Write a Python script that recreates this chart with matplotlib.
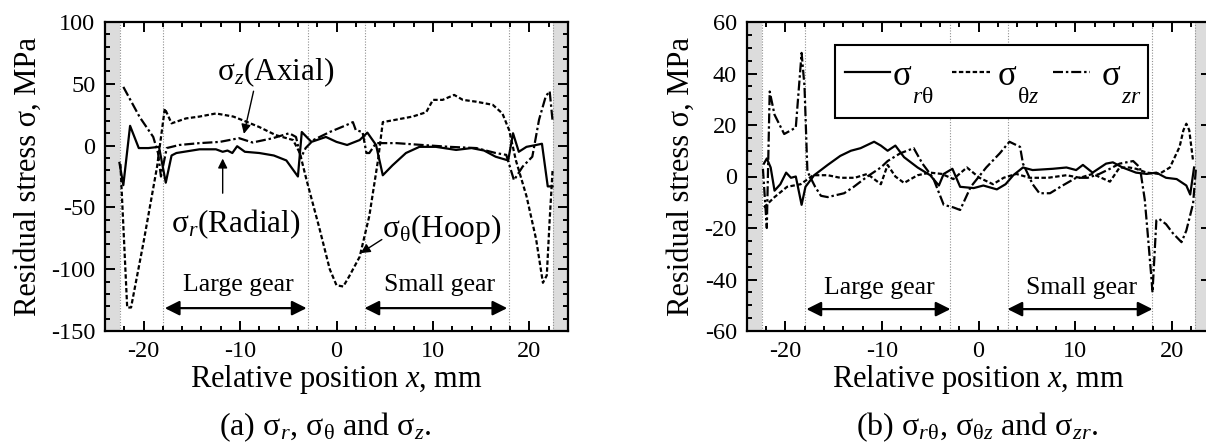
import matplotlib
matplotlib.use('Agg')
import matplotlib.pyplot as plt
from matplotlib.ticker import MultipleLocator
from matplotlib.patches import Rectangle
from matplotlib.lines import Line2D

plt.rcParams['font.family'] = ['Liberation Serif', 'DejaVu Serif']
plt.rcParams['mathtext.fontset'] = 'custom'
plt.rcParams['mathtext.rm'] = 'Liberation Serif'
plt.rcParams['mathtext.it'] = 'Liberation Serif:italic'
plt.rcParams['mathtext.bf'] = 'Liberation Serif:bold'
plt.rcParams['axes.unicode_minus'] = False

# (a) normal stresses
x_r = [-22.5, -22.1, -21.4, -20.5, -19.5, -18.4, -17.7, -17.1, -16.6, -15.0, -14.2,
       -12.5, -11.8, -11.3, -10.8, -10.3, -9.5, -8.0, -6.5, -5.2, -4.0, -3.6, -2.6,
       -1.1, 0.0, 1.1, 2.4, 3.2, 4.1, 4.8, 5.8, 7.2, 8.6, 10.3, 12.4, 14.0, 15.3,
       16.5, 17.8, 18.3, 18.9, 19.7, 20.7, 21.3, 21.9, 22.4]
sig_r = [-14, -32, 16, -2, -2, -1, -30, -8, -6, -4, -3,
         -3, -5, -4, -6, -0.5, -5, -6, -8, -12, -25, 11, 3,
         7, 3, 0.5, 4.5, 10.5, 0.5, -24, -16, -6, -1, -1, -3.5, -2, -4,
         -9, -12, 10, -5, -1, 0.5, 1.5, -33, -33]

x_t = [-22.4, -21.7, -21.3, -20.0, -18.6, -17.8, -17.1, -15.6, -14.2, -12.5, -10.7,
       -9.4, -8.0, -6.3, -4.5, -3.8, -3.1, -1.8, -0.7, 0.0, 0.7, 1.3, 2.4, 3.4,
       4.3, 4.8, 6.2, 7.9, 9.3, 10.0, 11.0, 12.2, 13.1, 14.5, 16.2, 17.2, 17.9,
       18.6, 19.7, 20.7, 21.4, 21.8, 22.1, 22.4]
sig_t = [-15, -131, -131, -78, -17, 30, 18, 22, 23.5, 26, 23.5,
         19.5, 15, 8.5, 4.5, -6, -28, -66, -100, -113, -114, -106, -90, -57,
         -12, 19, 21, 23.5, 27, 37, 37, 41, 37, 35.5, 33, 26, 12.5,
         -12, -41, -76, -111, -105, -60, -20]

x_z = [-22.1, -20.4, -19.0, -18.5, -18.2, -17.6, -16.3, -14.2, -12.1, -10.1, -8.7,
       -6.6, -4.9, -4.2, -3.7, -3.2, -2.4, -0.7, 1.0, 1.7, 2.0, 2.7, 3.1, 3.4,
       4.1, 6.2, 8.9, 11.7, 14.5, 16.5, 17.6, 18.4, 19.3, 20.3, 21.0, 21.7, 22.1, 22.4]
sig_z = [47.5, 23, 7, -6, -25, -2, 0.5, 2, 3, 6, 2.5,
         6, 10, 7, -10, -2, 4.5, 11, 16.5, 19, 12.5, 11, -6, -6,
         2, 2, 0.5, -1, -2, -6, -7.5, -28, -17, -9, 21, 40, 44, 20]

# (b) shear stresses
x_rt = [-22.2, -21.9, -21.5, -21.1, -20.5, -19.9, -19.4, -18.9, -18.3, -17.9, -17.0,
        -15.6, -14.3, -13.2, -12.2, -10.8, -10.1, -9.4, -8.6, -7.7, -6.3, -5.0,
        -4.1, -3.6, -2.7, -1.9, -0.5, 0.5, 1.9, 2.8, 3.6, 4.6, 5.6, 7.7, 9.1,
        10.1, 10.8, 11.8, 13.2, 13.9, 14.9, 16.3, 17.4, 18.4, 19.4, 20.5, 21.5,
        21.9, 22.3]
sig_rt = [5, 7, 3.5, -5.5, -3, 1.5, -0.5, 0, -11, -4, 0.5,
          4.5, 8, 10, 11, 13.5, 12, 10, 12, 7.5, 3.5, 0.5,
          -3.5, 1, 3, -4, -4.5, -3.5, -5, -3, 0.5, 3.5, 2.5, 3, 3.5,
          2.5, 4.5, 1.5, 5, 5.5, 3.5, 1.5, 1, 1.5, -0.5, -1, -3.5,
          -7, 3.5]

x_tz = [-22.2, -21.1, -19.8, -18.4, -17.1, -15.6, -14.3, -12.8, -11.5, -10.1, -9.4,
        -8.6, -7.7, -6.3, -5.0, -3.8, -2.6, -1.2, 0.1, 1.5, 2.6, 3.9, 5.3, 7.2,
        9.1, 10.5, 11.8, 13.6, 14.6, 15.6, 16.3, 17.4, 18.7, 19.8, 20.8, 21.2,
        21.5, 21.8, 22.2]
sig_tz = [-12, -8, -4, -3, 0.5, 0.5, -0.5, -0.5, 1, -3, 4.5,
          0, -2.5, 0.5, 1.5, 1, -1, 3.5, -0.5, -3, -0.5, 1, -0.5, -0.5,
          0.5, -0.5, 1, -2, 3.5, 3.5, 3, 1.5, 1, 3.5, 11.5, 18,
          20.5, 18, 6]

x_zr = [-22.3, -21.9, -21.6, -21.1, -20.1, -18.9, -18.3, -18.0, -17.7, -16.9, -16.3,
        -15.6, -13.9, -12.9, -11.5, -10.1, -9.4, -8.1, -6.7, -5.8, -4.7, -3.6,
        -2.6, -1.9, -0.8, 0.8, 2.2, 3.2, 4.3, 4.6, 5.6, 6.3, 7.4, 8.7, 10.1,
        11.3, 12.5, 13.6, 14.6, 16.0, 16.7, 17.2, 17.5, 17.9, 18.0, 18.4, 18.7,
        19.4, 20.1, 21.0, 21.5, 22.2, 22.5]
sig_zr = [3, -20, 33, 24, 16.5, 19, 48, 35, 2, -4, -7.5,
          -8, -6.5, -4, 0, 3.5, 6, 9, 11, 5, -0.5, -11,
          -12, -13, -4, 3.5, 9, 13.5, 11.5, 5, -3, -6.5, -6.5, -3.5, -0.5,
          -0.5, 1, 3, 5, 6, 3.5, -9, -22, -40, -45, -17, -16.5,
          -18.5, -22, -25.5, -21, -10.5, 3.5]

gear_lines = [-18, -3, 3, 17.9]
edge = 22.4

leg_subs = [r'$r\mathrm{\theta}$', r'$\mathrm{\theta}z$', r'$zr$']

dash = (0, (2, 1.1))
dashdot = (0, (4.5, 1.3, 1.1, 1.3))
lw = 1.6

fig = plt.figure(figsize=(12.06, 4.43), dpi=100)
ax1 = fig.add_axes([105 / 1206, 112 / 443, 463 / 1206, 309 / 443])
ax2 = fig.add_axes([746.5 / 1206, 112 / 443, 464 / 1206, 309 / 443])

for ax in (ax1, ax2):
    ax.set_xlim(-24, 24)
    ax.axvspan(-24, -edge, color='#dcdcdc', lw=0, zorder=0)
    ax.axvspan(edge, 24, color='#dcdcdc', lw=0, zorder=0)
    for xv in gear_lines + [-edge, edge]:
        ax.axvline(xv, color='#909090', lw=0.8, ls=(0, (1, 1.5)), zorder=1)
    ax.xaxis.set_major_locator(MultipleLocator(10))
    ax.xaxis.set_minor_locator(MultipleLocator(2))
    ax.tick_params(which='both', direction='in', top=True, right=True, width=1.4,
                   labelsize=17.5, pad=7)
    ax.tick_params(which='major', length=7)
    ax.tick_params(which='minor', length=3.5)
    for s in ax.spines.values():
        s.set_linewidth(1.6)
    ax.set_xlabel('Relative position $x$, mm', fontsize=22, labelpad=1)
    ax.set_ylabel('Residual stress σ, MPa', fontsize=22, labelpad=6)

# panel (a)
ax1.set_ylim(-150, 100)
ax1.yaxis.set_major_locator(MultipleLocator(50))
ax1.yaxis.set_minor_locator(MultipleLocator(10))
ax1.plot(x_t, sig_t, color='black', lw=lw, ls=dash, zorder=3)
ax1.plot(x_z, sig_z, color='black', lw=lw, ls=dashdot, zorder=3)
ax1.plot(x_r, sig_r, color='black', lw=lw, ls='-', zorder=4)

arr = dict(arrowstyle='-|>', color='black', lw=1.0, mutation_scale=14, shrinkA=0, shrinkB=0)
ax1.text(-6.3, 59, r'$\mathrm{\sigma}_{z}$(Axial)', fontsize=22.5, ha='center', va='center')
ax1.annotate('', xy=(-9.6, 9.5), xytext=(-8.6, 44), arrowprops=arr)
ax1.text(-10.4, -64, r'$\mathrm{\sigma}_{r}$(Radial)', fontsize=22.5, ha='center', va='center')
ax1.annotate('', xy=(-11.8, -10.5), xytext=(-11.8, -38.5), arrowprops=arr)
ax1.text(10.9, -67.5, r'$\mathrm{\sigma}_{\mathrm{\theta}}$(Hoop)', fontsize=22.5,
         ha='center', va='center')
ax1.annotate('', xy=(2.5, -87), xytext=(4.7, -76), arrowprops=arr)

gear = dict(arrowstyle='<|-|>', color='black', lw=1.6, mutation_scale=22, shrinkA=0, shrinkB=0)
ax1.annotate('', xy=(-17.8, -131.5), xytext=(-3.1, -131.5), arrowprops=gear)
ax1.annotate('', xy=(2.9, -131.5), xytext=(17.7, -131.5), arrowprops=gear)
ax1.text(-10.2, -118, 'Large gear', fontsize=18.5, ha='center', va='baseline')
ax1.text(10.7, -118, 'Small gear', fontsize=18.5, ha='center', va='baseline')

# panel (b)
ax2.set_ylim(-60, 60)
ax2.yaxis.set_major_locator(MultipleLocator(20))
ax2.yaxis.set_minor_locator(MultipleLocator(5))
ax2.plot(x_rt, sig_rt, color='black', lw=lw, ls='-', zorder=4)
ax2.plot(x_tz, sig_tz, color='black', lw=lw, ls=dash, zorder=3)
ax2.plot(x_zr, sig_zr, color='black', lw=lw, ls=dashdot, zorder=3)

# legend box drawn by hand so the low subscripts fit like the original
def axfrac(px, py):
    return (px - 746.5) / 464, (331 - py) / 309

bx0, by0 = axfrac(835, 118)
bx1, by1 = axfrac(1148, 45)
ax2.add_patch(Rectangle((bx0, by0), bx1 - bx0, by1 - by0, transform=ax2.transAxes,
                        facecolor='white', edgecolor='black', lw=1.5, zorder=6))
handle_px = [(845, 890), (952, 990), (1053, 1090)]
sigma_px = [893, 998, 1102]
styles = ['-', dash, dashdot]
for (h0, h1), sx, st, sub in zip(handle_px, sigma_px, styles, leg_subs):
    hx0, hy = axfrac(h0, 72)
    hx1, _ = axfrac(h1, 72)
    ax2.add_line(Line2D([hx0, hx1], [hy, hy], transform=ax2.transAxes, color='black',
                        lw=lw, ls=st, zorder=7))
    tx, ty = axfrac(sx, 76.5)
    ax2.text(tx, ty, 'σ', transform=ax2.transAxes, fontsize=25, ha='left', va='center', zorder=7)
    tx, ty = axfrac(sx + 19, 97.5)
    ax2.text(tx, ty, sub, transform=ax2.transAxes, fontsize=17, ha='left', va='center', zorder=7)

ax2.annotate('', xy=(-17.8, -51.5), xytext=(-2.9, -51.5), arrowprops=gear)
ax2.annotate('', xy=(3.0, -51.5), xytext=(18.0, -51.5), arrowprops=gear)
ax2.text(-10.3, -45.7, 'Large gear', fontsize=18.5, ha='center', va='baseline')
ax2.text(10.7, -45.7, 'Small gear', fontsize=18.5, ha='center', va='baseline')

fig.text(325 / 1206, 1 - 427 / 443,
         r'(a) $\mathrm{\sigma}_{r}$, $\mathrm{\sigma}_{\mathrm{\theta}}$ and $\mathrm{\sigma}_{z}$.',
         fontsize=23, ha='center', va='center')
fig.text(977 / 1206, 1 - 427 / 443,
         r'(b) $\mathrm{\sigma}_{r\mathrm{\theta}}$, $\mathrm{\sigma}_{\mathrm{\theta}z}$ and $\mathrm{\sigma}_{zr}$.',
         fontsize=23, ha='center', va='center')

fig.savefig('out.png', dpi=100)
